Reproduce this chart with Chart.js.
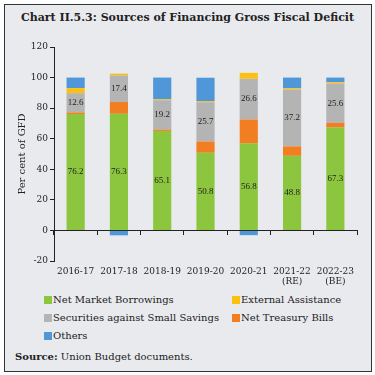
<!DOCTYPE html>
<html>
<head>
<meta charset="utf-8">
<script src="https://cdn.jsdelivr.net/npm/chart.js@4"></script>
<style>
  body { margin: 0; background: #fff; width: 375px; height: 375px; overflow: hidden; }
  #frame { position: absolute; left: 4px; top: 4px; width: 366px; height: 366px; border: 1px solid #333; background: #E9EAEE; }
  #title { position: absolute; left: 0; top: 11px; width: 375px; text-align: center; font: bold 11px "DejaVu Serif"; color: #222; }
  #wrap { position: absolute; left: 0; top: 0; width: 375px; height: 292px; }
  .leg { position: absolute; font: 10px "DejaVu Serif"; color: #222; white-space: nowrap; line-height: 12px; }
  .leg i { display: inline-block; width: 8px; height: 8px; margin-right: 1px; vertical-align: -0.5px; }
  #source { position: absolute; left: 15px; top: 351px; font: 10px "DejaVu Serif"; color: #222; }
</style>
</head>
<body>
<div id="frame"></div>
<div id="title">Chart II.5.3: Sources of Financing Gross Fiscal Deficit</div>
<div id="wrap"><canvas id="gfd-Chart"></canvas></div>
<div class="leg" style="left:44px;top:294px"><i style="background:#8CC63F"></i>Net Market Borrowings</div>
<div class="leg" style="left:232px;top:294px"><i style="background:#FDC010"></i>External Assistance</div>
<div class="leg" style="left:44px;top:312px"><i style="background:#B4B4B4"></i>Securities against Small Savings</div>
<div class="leg" style="left:232px;top:312px"><i style="background:#F27E22"></i>Net Treasury Bills</div>
<div class="leg" style="left:44px;top:330px"><i style="background:#4F97D8"></i>Others</div>
<div id="source"><b>Source:</b> Union Budget documents.</div>
<script>
const labels = ["2016-17", "2017-18", "2018-19", "2019-20", "2020-21", ["2021-22", "(RE)"], ["2022-23", "(BE)"]];

const marketBorrowings = [76.2, 76.3, 65.1, 50.8, 56.8, 48.8, 67.3];
const treasuryBills = [1.0, 7.7, 0.9, 7.4, 15.8, 6.2, 3.1];
const smallSavings = [12.6, 17.4, 19.2, 25.7, 26.6, 37.2, 25.6];
const externalAssistance = [3.3, 1.2, 0.6, 0.7, 3.9, 0.9, 0.9];
const others = [6.9, -3.2, 14.2, 15.3, -3.1, 6.9, 3.1];

const yTicks = { min: -20, max: 120, step: 20 };

const serif = "DejaVu Serif";

// values printed inside the green and grey segments
const valueLabels = {
  id: "valueLabels",
  afterDatasetsDraw(chart) {
    const ctx = chart.ctx;
    ctx.save();
    ctx.font = "9px 'Liberation Serif'";
    ctx.fillStyle = "#222";
    ctx.textAlign = "center";
    ctx.textBaseline = "middle";
    [0, 2].forEach(di => {
      chart.getDatasetMeta(di).data.forEach((bar, i) => {
        const p = bar.getCenterPoint();
        ctx.fillText(chart.data.datasets[di].data[i].toFixed(1), p.x, p.y);
      });
    });
    ctx.restore();
  }
};

const data = {
  labels: labels,
  datasets: [
    { label: "Net Market Borrowings", data: marketBorrowings, backgroundColor: "#8CC63F" },
    { label: "Net Treasury Bills", data: treasuryBills, backgroundColor: "#F27E22" },
    { label: "Securities against Small Savings", data: smallSavings, backgroundColor: "#B4B4B4" },
    { label: "External Assistance", data: externalAssistance, backgroundColor: "#FDC010" },
    { label: "Others", data: others, backgroundColor: "#4F97D8" },
  ],
};

const config = {
  type: "bar",
  data: data,
  plugins: [valueLabels],
  options: {
    responsive: true,
    maintainAspectRatio: false,
    animation: false,
    barPercentage: 0.42,
    categoryPercentage: 1,
    layout: { padding: { left: 16, right: 18, top: 47, bottom: 0 } },
    plugins: { legend: { display: false }, tooltip: { enabled: false } },
    scales: {
      x: {
        stacked: true,
        grid: { display: false, drawTicks: false },
        border: { display: false },
        ticks: { color: "#222", font: { family: serif, size: 9, lineHeight: 1.15 }, padding: 5, maxRotation: 0 },
        afterFit: s => { s.height = 31; }
      },
      x2: {
        position: { y: 0 },
        offset: true,
        grid: { drawOnChartArea: false, drawTicks: true, tickLength: 4, color: "#222", offset: true },
        border: { color: "#222", width: 1 },
        ticks: { display: false }
      },
      y: {
        stacked: true,
        min: yTicks.min,
        max: yTicks.max,
        ticks: { stepSize: yTicks.step, color: "#222", font: { family: serif, size: 9 }, padding: 2 },
        grid: { drawOnChartArea: false, drawTicks: true, tickLength: 4, color: "#222" },
        border: { color: "#222", width: 1 },
        title: { display: true, text: "Per cent of GFD", color: "#222", font: { family: serif, size: 10 }, padding: 0 },
        afterFit: s => { s.width = 38; }
      }
    }
  }
};

let myChart = new Chart(document.getElementById("gfd-Chart"), config);
</script>
</body>
</html>
